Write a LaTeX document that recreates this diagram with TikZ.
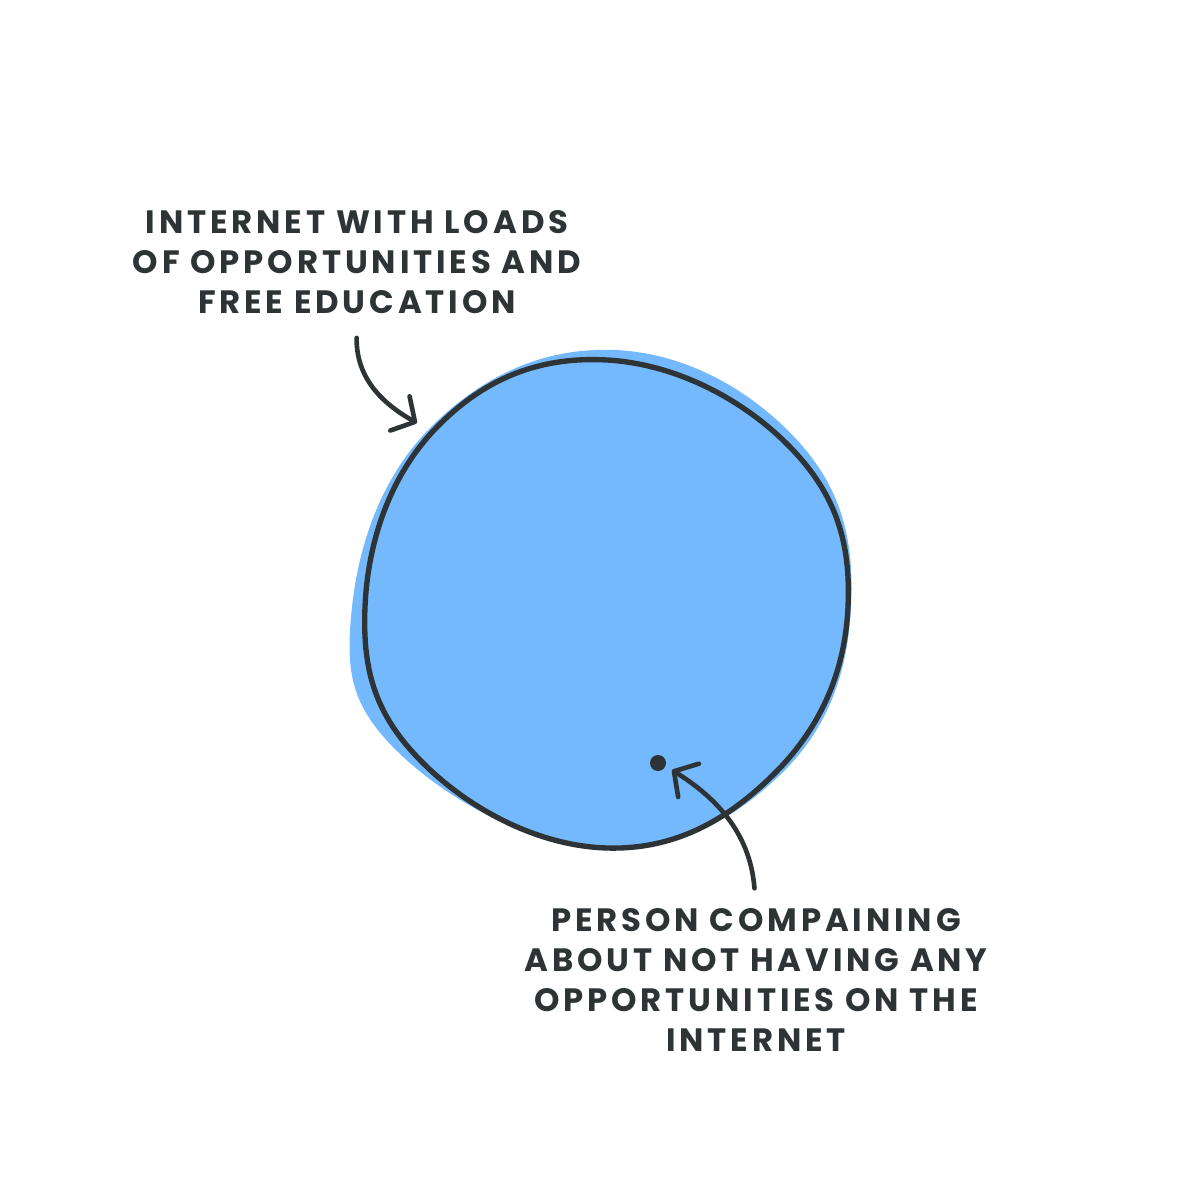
\documentclass[tikz,border=0pt]{standalone}
\usepackage{fontspec}
\setmainfont{Poppins}
\usepackage{tikz}
\usetikzlibrary{
    arrows.meta,
    positioning
}
\definecolor{ink}{HTML}{2E3436}
\definecolor{netblue}{HTML}{74B8FD}

\begin{document}
\begin{tikzpicture}[x=0.25mm, y=-0.25mm,
    label/.style={align=center, text=ink, inner sep=0pt,
        font=\fontsize{23}{28.45}\selectfont\bfseries\addfontfeatures{LetterSpace=12}},
    arr/.style={ink, line width=3.3pt, line cap=round,
        -{Straight Barb[length=4.3mm, width=9.8mm, line cap=round, line join=round]}}]
\useasboundingbox (0, 0) rectangle (1200, 1200);
\fill[netblue] plot[smooth cycle, tension=0.7] coordinates {
    (615, 350) (797, 440) (851, 607) (780, 775) (600, 848) (398, 752) (352, 607) (433, 425)};
\draw[ink, line width=3.8pt, line join=round] plot[smooth cycle, tension=0.7] coordinates {
    (607, 360) (790, 447) (848, 607) (775, 773) (607, 848) (423, 763) (365, 607) (437, 427)};
\node[label] (netlabel) at (357, 262) {INTERNET WITH LOADS\\OF OPPORTUNITIES AND\\FREE EDUCATION};
\node[label] (personlabel) at (756, 980) {PERSON COMPAINING\\ABOUT NOT HAVING ANY\\OPPORTUNITIES ON THE\\INTERNET};
\node[circle, fill=ink, inner sep=0pt, minimum size=4mm] (person) at (658, 763) {};
\coordinate (rim) at (417, 423);
\coordinate (persontip) at (672, 770);
\draw[arr, shorten <=6mm] (netlabel.south) .. controls (356, 380) and (385, 405) .. (rim);
\draw[arr, shorten <=5mm] (personlabel.north) .. controls (750, 830) and (712, 795) .. (persontip);
\end{tikzpicture}
\end{document}
